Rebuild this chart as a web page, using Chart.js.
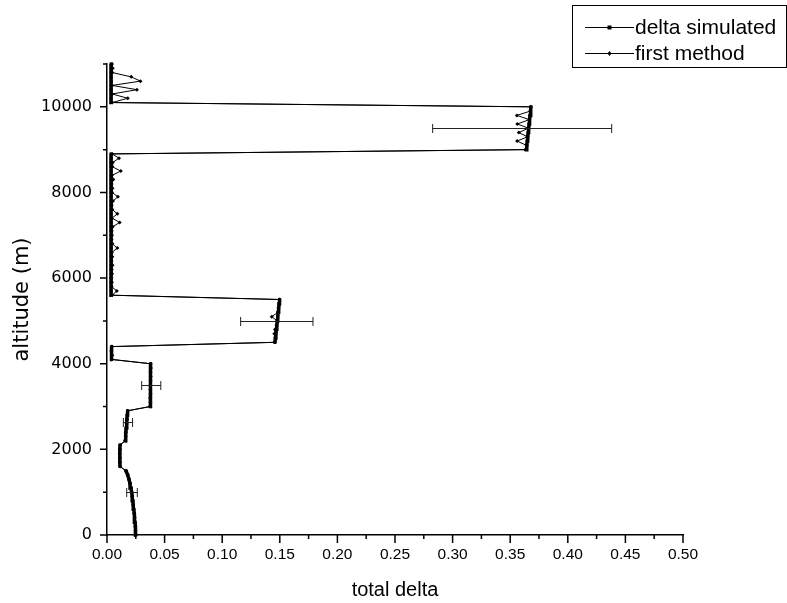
<!DOCTYPE html>
<html>
<head>
<meta charset="utf-8">
<script src="https://cdn.jsdelivr.net/npm/chart.js@4.4.0/dist/chart.umd.min.js"></script>
<style>
  html, body { margin: 0; padding: 0; background: #fff; }
  canvas { display: block; }
</style>
</head>
<body>
<canvas id="chart" width="787" height="603"></canvas>
<script>
// altitude grid (m), 100 m steps
const altitude = [
  0, 100, 200, 300, 400, 500, 600, 700, 800, 900,
  1000, 1100, 1200, 1300, 1400, 1500, 1600, 1700, 1800, 1900,
  2000, 2100, 2200, 2300, 2400, 2500, 2600, 2700, 2800, 2900,
  3000, 3100, 3200, 3300, 3400, 3500, 3600, 3700, 3800, 3900,
  4000, 4100, 4200, 4300, 4400, 4500, 4600, 4700, 4800, 4900,
  5000, 5100, 5200, 5300, 5400, 5500, 5600, 5700, 5800, 5900,
  6000, 6100, 6200, 6300, 6400, 6500, 6600, 6700, 6800, 6900,
  7000, 7100, 7200, 7300, 7400, 7500, 7600, 7700, 7800, 7900,
  8000, 8100, 8200, 8300, 8400, 8500, 8600, 8700, 8800, 8900,
  9000, 9100, 9200, 9300, 9400, 9500, 9600, 9700, 9800, 9900,
  10000, 10100, 10200, 10300, 10400, 10500, 10600, 10700, 10800, 10900,
  11000
];

const deltaSimulated = [
  0.0250, 0.0248, 0.0246, 0.0243, 0.0240, 0.0236, 0.0232, 0.0228, 0.0224, 0.0219,
  0.0214, 0.0208, 0.0200, 0.0191, 0.0180, 0.0165, 0.0113, 0.0112, 0.0111, 0.0111,
  0.0112, 0.0113, 0.0158, 0.0161, 0.0164, 0.0167, 0.0170, 0.0173, 0.0176, 0.0179,
  0.0375, 0.0376, 0.0376, 0.0377, 0.0377, 0.0377, 0.0378, 0.0378, 0.0378, 0.0379,
  0.0379, 0.0040, 0.0039, 0.0039, 0.0040, 0.1458, 0.1462, 0.1466, 0.1470, 0.1474,
  0.1478, 0.1482, 0.1486, 0.1490, 0.1494, 0.1498, 0.0036, 0.0035, 0.0036, 0.0035,
  0.0035, 0.0036, 0.0035, 0.0035, 0.0036, 0.0035, 0.0035, 0.0036, 0.0035, 0.0035,
  0.0036, 0.0035, 0.0035, 0.0036, 0.0035, 0.0035, 0.0036, 0.0035, 0.0035, 0.0036,
  0.0035, 0.0035, 0.0036, 0.0035, 0.0035, 0.0036, 0.0035, 0.0035, 0.0036, 0.0035,
  0.3640, 0.3644, 0.3648, 0.3652, 0.3656, 0.3660, 0.3664, 0.3668, 0.3672, 0.3676,
  0.3680, 0.0036, 0.0035, 0.0036, 0.0035, 0.0035, 0.0036, 0.0035, 0.0035, 0.0036,
  0.0035
];

const firstMethod = [
  0.0249, 0.0247, 0.0245, 0.0242, 0.0239, 0.0235, 0.0231, 0.0227, 0.0223, 0.0218,
  0.0213, 0.0207, 0.0199, 0.0190, 0.0179, 0.0163, 0.0114, 0.0111, 0.0112, 0.0110,
  0.0113, 0.0114, 0.0157, 0.0162, 0.0163, 0.0168, 0.0169, 0.0174, 0.0175, 0.0180,
  0.0374, 0.0377, 0.0375, 0.0378, 0.0376, 0.0378, 0.0377, 0.0379, 0.0377, 0.0380,
  0.0378, 0.0042, 0.0046, 0.0038, 0.0043, 0.1455, 0.1460, 0.1452, 0.1458, 0.1471,
  0.1477, 0.1430, 0.1484, 0.1488, 0.1493, 0.1497, 0.0045, 0.0085, 0.0040, 0.0043,
  0.0038, 0.0044, 0.0041, 0.0048, 0.0039, 0.0046, 0.0042, 0.0090, 0.0047, 0.0040,
  0.0044, 0.0041, 0.0050, 0.0110, 0.0043, 0.0090, 0.0046, 0.0041, 0.0052, 0.0095,
  0.0044, 0.0048, 0.0040, 0.0055, 0.0043, 0.0120, 0.0046, 0.0050, 0.0104, 0.0045,
  0.3630, 0.3642, 0.3560, 0.3650, 0.3575, 0.3658, 0.3562, 0.3666, 0.3558, 0.3674,
  0.3679, 0.0045, 0.0180, 0.0045, 0.0260, 0.0045, 0.0290, 0.0210, 0.0046, 0.0050,
  0.0044
];

// error bars of the first method
const errAltitude = [1000, 2650, 3500, 5000, 9500];
const errCenter = [0.0217, 0.0182, 0.0384, 0.1474, 0.3604];
const errHalf = [0.0046, 0.0040, 0.0083, 0.0314, 0.0777];

const xTicks = [0, 0.05, 0.1, 0.15, 0.2, 0.25, 0.3, 0.35, 0.4, 0.45, 0.5];
const yTicks = [0, 2000, 4000, 6000, 8000, 10000];

const FONT = "'Liberation Sans', Arial, sans-serif";
const WIDE = "'DejaVu Sans', sans-serif";
Chart.defaults.font.family = FONT;
Chart.defaults.color = '#000';

function toPoints(xs) {
  return altitude.map((a, i) => ({ x: xs[i], y: a }));
}

// error bars, minor ticks and boxed legend
const extras = {
  id: 'extras',
  afterDatasetsDraw(chart) {
    const ctx = chart.ctx;
    const xs = chart.scales.x, ys = chart.scales.y;
    ctx.save();
    ctx.strokeStyle = '#222';
    ctx.lineWidth = 1;
    errAltitude.forEach((a, i) => {
      const py = Math.round(ys.getPixelForValue(a)) + 0.5;
      const x1 = xs.getPixelForValue(errCenter[i] - errHalf[i]);
      const x2 = xs.getPixelForValue(errCenter[i] + errHalf[i]);
      ctx.beginPath();
      ctx.moveTo(x1, py); ctx.lineTo(x2, py);
      ctx.moveTo(x1, py - 4.5); ctx.lineTo(x1, py + 4.5);
      ctx.moveTo(x2, py - 4.5); ctx.lineTo(x2, py + 4.5);
      ctx.stroke();
    });
    ctx.restore();
  },
  afterDraw(chart) {
    const ctx = chart.ctx;
    const xs = chart.scales.x, ys = chart.scales.y;
    const area = chart.chartArea;
    ctx.save();
    ctx.strokeStyle = '#000';
    ctx.lineWidth = 1.5;
    ctx.beginPath();
    // x ticks (major + minor)
    for (let i = 0; i < xTicks.length; i++) {
      const px = xs.getPixelForValue(xTicks[i]);
      ctx.moveTo(px, area.bottom); ctx.lineTo(px, area.bottom + 8);
      if (i < xTicks.length - 1) {
        const mx = xs.getPixelForValue((xTicks[i] + xTicks[i + 1]) / 2);
        ctx.moveTo(mx, area.bottom); ctx.lineTo(mx, area.bottom + 4);
      }
    }
    // y ticks (major + minor)
    for (let i = 0; i < yTicks.length; i++) {
      const py = ys.getPixelForValue(yTicks[i]);
      ctx.moveTo(area.left, py); ctx.lineTo(area.left - 7, py);
      const my = ys.getPixelForValue(yTicks[i] + 1000);
      ctx.moveTo(area.left, my); ctx.lineTo(area.left - 4, my);
    }
    ctx.stroke();

    // legend
    ctx.lineWidth = 1;
    ctx.strokeRect(572.5, 5.5, 214, 62);
    ctx.font = '21px ' + FONT;
    ctx.textBaseline = 'middle';
    ctx.fillStyle = '#000';
    chart.data.datasets.forEach((ds, i) => {
      const ly = 27 + i * 26;
      ctx.beginPath();
      ctx.moveTo(585, ly + 0.5); ctx.lineTo(634, ly + 0.5);
      ctx.stroke();
      if (ds.pointStyle === 'rect') {
        ctx.fillRect(607.5, ly - 1.5, 4, 4);
      } else {
        ctx.beginPath();
        ctx.moveTo(609.5, ly - 2); ctx.lineTo(611.5, ly + 0.5);
        ctx.lineTo(609.5, ly + 3); ctx.lineTo(607.5, ly + 0.5);
        ctx.closePath(); ctx.fill();
      }
      ctx.fillText(ds.label, 635, ly + 1);
    });
    ctx.restore();
  }
};

new Chart(document.getElementById('chart'), {
  type: 'scatter',
  data: {
    datasets: [
      {
        label: 'delta simulated',
        data: toPoints(deltaSimulated),
        showLine: true,
        borderColor: '#000',
        borderWidth: 1,
        // near-vertical runs render as a heavy trace, jumps stay thin
        segment: {
          borderWidth: c => Math.abs(c.p1.x - c.p0.x) < 3 ? 3.5 : 1
        },
        backgroundColor: '#000',
        pointStyle: 'rect',
        pointRadius: 2.2,
        pointBorderWidth: 0,
        clip: false
      },
      {
        label: 'first method',
        data: toPoints(firstMethod),
        showLine: true,
        borderColor: '#000',
        borderWidth: 1,
        backgroundColor: '#000',
        pointStyle: 'rectRot',
        pointRadius: 2,
        pointBorderWidth: 0,
        clip: false
      }
    ]
  },
  options: {
    responsive: false,
    animation: false,
    layout: { padding: { top: 64, right: 104, left: 0, bottom: 0 } },
    plugins: {
      legend: { display: false },
      tooltip: { enabled: false }
    },
    scales: {
      x: {
        type: 'linear',
        min: 0,
        max: 0.5,
        afterFit: s => { s.height = 68; },
        afterBuildTicks: s => { s.ticks = xTicks.map(v => ({ value: v })); },
        ticks: {
          callback: v => Number(v).toFixed(2),
          font: { size: 15.5 },
          color: '#000',
          padding: 2,
          maxRotation: 0
        },
        grid: { display: false },
        border: { display: true, color: '#000', width: 1.5 },
        title: { display: true, text: 'total delta', font: { size: 20 }, color: '#000', padding: { top: 4, bottom: 1 } }
      },
      y: {
        type: 'linear',
        min: 0,
        max: 11000,
        afterFit: s => { s.width = 107; },
        afterBuildTicks: s => { s.ticks = yTicks.map(v => ({ value: v })); },
        ticks: {
          callback: v => String(v),
          font: { family: WIDE, size: 16 },
          color: '#000',
          padding: 7
        },
        grid: { display: false },
        border: { display: true, color: '#000', width: 1.5 },
        title: { display: true, text: 'altitude (m)', font: { family: WIDE, size: 21 }, color: '#000', padding: { top: 10, bottom: 4 } }
      }
    }
  },
  plugins: [extras]
});
</script>
</body>
</html>
